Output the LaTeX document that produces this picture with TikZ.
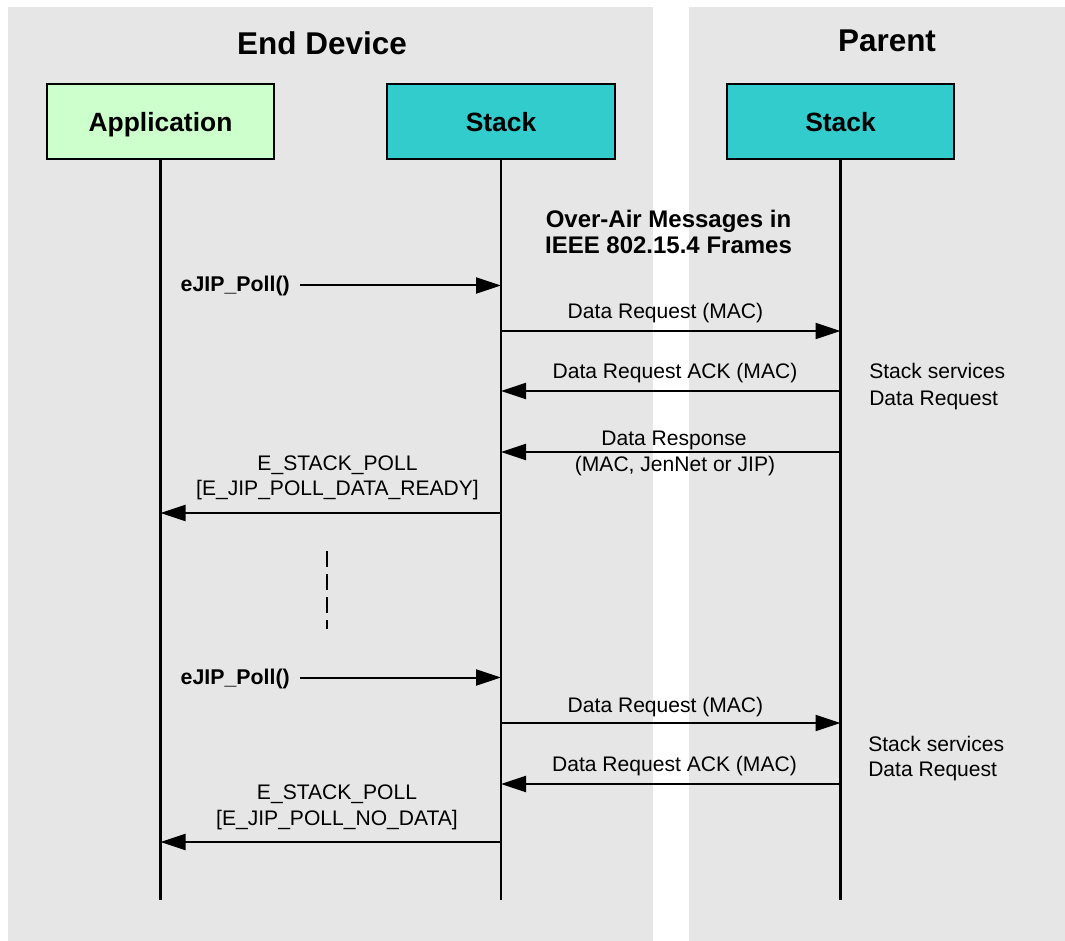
\documentclass[tikz,border=0pt]{standalone}
\usepackage{fontspec}
\setmainfont{Liberation Sans}
\usetikzlibrary{arrows.meta}
\definecolor{panelgrey}{HTML}{E6E6E6}
\definecolor{appgreen}{HTML}{CCFFCC}
\definecolor{stackteal}{HTML}{33CCCC}
\begin{document}
\begin{tikzpicture}[x=0.75pt,y=-0.75pt,
  lifebox/.style={draw=black,line width=1.5pt,minimum width=170.5pt,minimum height=56.25pt,inner sep=0pt,text depth=0pt,font=\fontsize{19.8}{24}\selectfont\bfseries},
  titletext/.style={font=\fontsize{23.6}{28}\selectfont\bfseries,anchor=base,inner sep=0pt},
  overair/.style={font=\fontsize{18}{21}\selectfont\bfseries,anchor=base,inner sep=0pt},
  msg/.style={font=\fontsize{15.8}{19}\selectfont,anchor=base,inner sep=0pt},
  note/.style={font=\fontsize{15.8}{19}\selectfont,anchor=base west,inner sep=0pt},
  calltext/.style={font=\fontsize{16}{19}\selectfont\bfseries,anchor=base east,inner sep=0pt},
  lifeline/.style={line width=2pt},
  arr/.style={line width=1.5pt,-{Triangle[length=18.75pt,width=12pt]}},
]
\useasboundingbox (0,0) rectangle (1065,941);
\fill[panelgrey] (8,7) rectangle (653,941);
\fill[panelgrey] (689,7) rectangle (1065,941);

% titles
\node[titletext] (tED) at (322,55) {End Device};
\node[titletext] (tP) at (887,52) {Parent};

% boxes
\node[lifebox,fill=appgreen] (app) at (160.5,121.5) {Application};
\node[lifebox,fill=stackteal] (eds) at (501,121.5) {Stack};
\node[lifebox,fill=stackteal] (ps) at (840.5,121.5) {Stack};

% lifelines
\coordinate (appEnd) at (160.5,900);
\coordinate (edsEnd) at (501,900);
\coordinate (psEnd) at (840.5,900);
\draw[lifeline] (app.south) -- (appEnd);
\draw[lifeline] (eds.south) -- (edsEnd);
\draw[lifeline] (ps.south) -- (psEnd);

% over-air heading
\node[overair] (oa1) at (668.5,228) {Over-Air Messages in};
\node[overair] (oa2) at (668.5,254) {IEEE 802.15.4 Frames};

% ---- group 1
\node[calltext] (call1) at (290,292) {eJIP\_Poll()};
\coordinate (c1s) at (300,285.5);
\coordinate (c1e) at (501,285.5);
\draw[arr] (c1s) -- (c1e);

\coordinate (r1s) at (501,331);
\coordinate (r1e) at (840.5,331);
\draw[arr] (r1s) -- (r1e);
\node[msg] (r1t) at (665.5,319) {Data Request (MAC)};

\coordinate (a1s) at (840.5,391);
\coordinate (a1e) at (501,391);
\draw[arr] (a1s) -- (a1e);
\node[msg] (a1t) at (675,379) {Data Request ACK (MAC)};

\node[note] (n1a) at (869,379) {Stack services};
\node[note] (n1b) at (869,406) {Data Request};

\coordinate (d1s) at (840.5,452);
\coordinate (d1e) at (501,452);
\draw[arr] (d1s) -- (d1e);
\node[msg] (d1t) at (674,446) {Data Response};
\node[msg] (d1u) at (675,472) {(MAC, JenNet or JIP)};

\coordinate (e1s) at (501,513);
\coordinate (e1e) at (160.5,513);
\draw[arr] (e1s) -- (e1e);
\node[msg] (e1t) at (337.5,470) {E\_STACK\_POLL};
\node[msg] (e1u) at (337.5,496) {[E\_JIP\_POLL\_DATA\_READY]};

% dashed gap
\coordinate (gapTop) at (327,551);
\coordinate (gapBot) at (327,629);
\draw[line width=2pt,dash pattern=on 12pt off 5.25pt] (gapTop) -- (gapBot);

% ---- group 2
\node[calltext] (call2) at (290,684) {eJIP\_Poll()};
\coordinate (c2s) at (300,677.5);
\coordinate (c2e) at (501,677.5);
\draw[arr] (c2s) -- (c2e);

\coordinate (r2s) at (501,723);
\coordinate (r2e) at (840.5,723);
\draw[arr] (r2s) -- (r2e);
\node[msg] (r2t) at (665.5,712) {Data Request (MAC)};

\coordinate (a2s) at (840.5,784);
\coordinate (a2e) at (501,784);
\draw[arr] (a2s) -- (a2e);
\node[msg] (a2t) at (674.5,771) {Data Request ACK (MAC)};

\node[note] (n2a) at (868,751) {Stack services};
\node[note] (n2b) at (868,776) {Data Request};

\coordinate (e2s) at (501,842);
\coordinate (e2e) at (160.5,842);
\draw[arr] (e2s) -- (e2e);
\node[msg] (e2t) at (337,799) {E\_STACK\_POLL};
\node[msg] (e2u) at (337,825) {[E\_JIP\_POLL\_NO\_DATA]};
\end{tikzpicture}
\end{document}
